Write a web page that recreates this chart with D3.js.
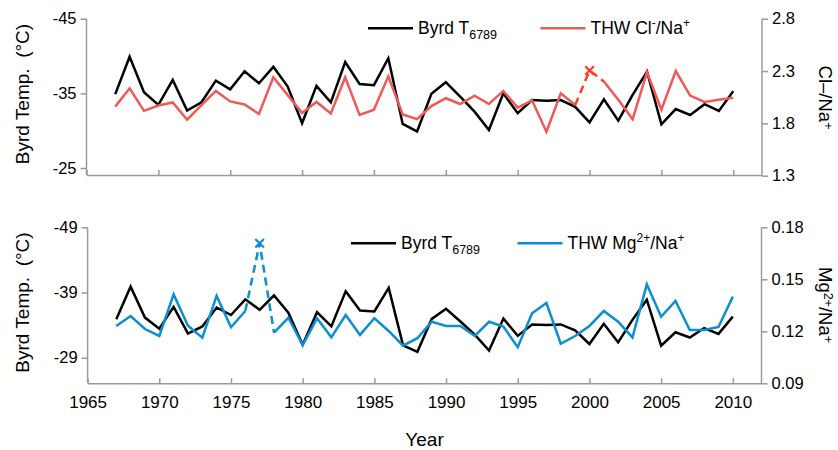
<!DOCTYPE html>
<html><head><meta charset="utf-8">
<script src="https://cdn.jsdelivr.net/npm/d3@7"></script>
<style>
body{margin:0;background:#fff}
svg text{font-family:"Liberation Sans",Arial,Helvetica,sans-serif;fill:#000}
</style></head><body>
<svg id="chart" width="838" height="450"></svg>
<script>
// Annual series, 1967-2010
const years = [1967,1968,1969,1970,1971,1972,1973,1974,1975,1976,
  1977,1978,1979,1980,1981,1982,1983,1984,1985,1986,
  1987,1988,1989,1990,1991,1992,1993,1994,1995,1996,
  1997,1998,1999,2000,2001,2002,2003,2004,2005,2006,
  2007,2008,2009,2010];

// Byrd temperature (6789 season mean), °C
const byrdT = [-34.9,-39.9,-35.15,-33.45,-36.8,-32.7,-33.8,-36.7,-35.55,-37.95,
  -36.35,-38.55,-35.9,-31.0,-36.0,-33.8,-39.2,-36.25,-36.1,-39.7,
  -30.9,-29.9,-34.95,-36.5,-34.55,-32.55,-30.1,-35.0,-32.35,-34.1,
  -34.0,-34.1,-33.2,-31.1,-34.2,-31.35,-34.8,-37.9,-30.85,-32.9,
  -32.1,-33.55,-32.65,-35.3];

// THW Cl-/Na+ ratio
const clNa = [1.96,2.135,1.92,1.97,2.0,1.835,1.975,2.11,2.01,1.98,
  1.89,2.24,2.07,1.90,2.005,1.895,2.24,1.88,1.93,2.25,
  1.885,1.84,1.965,2.04,1.985,2.065,1.985,2.11,1.95,2.02,
  1.72,2.087,1.975,2.305,2.20,2.025,1.84,2.29,1.93,2.30,
  2.065,2.005,2.025,2.045];

// THW Mg2+/Na+ ratio
const mgNa = [0.1231,0.1288,0.1213,0.1173,0.1413,0.1232,0.1163,0.1404,0.1223,0.1317,
  0.1708,0.1192,0.1278,0.1121,0.1275,0.1165,0.1294,0.1179,0.1275,0.1202,
  0.1117,0.1160,0.1255,0.1231,0.1231,0.1173,0.1255,0.1227,0.1108,0.1304,
  0.1363,0.1128,0.1173,0.1231,0.1317,0.1255,0.1165,0.1471,0.1284,0.1375,
  0.1207,0.1207,0.1225,0.1400];

// Flagged years: drawn with a cross and dashed connectors
const clFlagYear = 2000, clGap = [1999, 2001];
const mgFlagYear = 1977, mgGap = [1976, 1978];

// Tick values
const yearTicks = [1965,1970,1975,1980,1985,1990,1995,2000,2005,2010];
const tempTicksTop = [-45,-35,-25];
const clTicks = [2.8,2.3,1.8,1.3];
const tempTicksBottom = [-49,-39,-29];
const mgTicks = [0.18,0.15,0.12,0.09];

const AXIS = "#9a9a9a";
const C_BLACK = "#000000", C_RED = "#ee5a57", C_RED_FLAG = "#ff3d1f", C_BLUE = "#0c8fd0";

const svg = d3.select("#chart");
const rows = years.map((yr, i) => ({year: yr, t: byrdT[i], cl: clNa[i], mg: mgNa[i]}));

function styleAxis(g, size) {
  g.selectAll(".tick line").attr("stroke", AXIS).attr("stroke-width", 1.5);
  g.selectAll(".domain").attr("stroke", AXIS).attr("stroke-width", 1.5);
  g.selectAll(".tick text").attr("font-size", size)
    .attr("font-family", '"Liberation Sans",Arial,Helvetica,sans-serif').attr("fill", "#000");
}

function panel(cfg) {
  const {x, yL, yR, baseY, leftTicks, rightTicks, rightFmt, key, color, flagColor,
         gap, flagYear, showYears} = cfg;
  const x0 = x.range()[0], x1 = x.range()[1];

  // bottom (year) axis, ticks pointing into the plot
  const gx = svg.append("g").attr("transform", `translate(0,${baseY})`)
    .call(d3.axisBottom(x).tickValues(yearTicks).tickSizeInner(-5).tickSizeOuter(0)
      .tickPadding(13).tickFormat(d3.format("d")));
  if (!showYears) gx.selectAll(".tick text").remove();
  styleAxis(gx, 17);

  // left temperature axis
  const gl = svg.append("g").attr("transform", `translate(${x0},0)`)
    .call(d3.axisLeft(yL).tickValues(leftTicks).tickSize(6).tickPadding(4)
      .tickFormat(d => String(d)));
  gl.select(".domain").remove();
  gl.append("line").attr("class", "domain").attr("y1", yL(leftTicks[0])).attr("y2", baseY);
  styleAxis(gl, 16.5);

  // right ratio axis
  const gr = svg.append("g").attr("transform", `translate(${x1},0)`)
    .call(d3.axisRight(yR).tickValues(rightTicks).tickSize(6).tickPadding(4)
      .tickFormat(d3.format(rightFmt)));
  gr.select(".domain").remove();
  gr.append("line").attr("class", "domain").attr("y1", yR.range()[0]).attr("y2", yR.range()[1]);
  styleAxis(gr, 16.5);

  // temperature line
  const lineT = d3.line().x(d => x(d.year)).y(d => yL(d.t));
  svg.append("path").datum(rows).attr("d", lineT)
    .attr("fill", "none").attr("stroke", C_BLACK).attr("stroke-width", 2.5)
    .attr("stroke-linejoin", "miter");

  // ratio line: solid outside the flagged span, dashed across it
  const lineR = d3.line().x(d => x(d.year)).y(d => yR(d[key]));
  const before = rows.filter(d => d.year <= gap[0]);
  const across = rows.filter(d => d.year >= gap[0] && d.year <= gap[1]);
  const after = rows.filter(d => d.year >= gap[1]);
  [before, after].forEach(seg => {
    svg.append("path").datum(seg).attr("d", lineR)
      .attr("fill", "none").attr("stroke", color).attr("stroke-width", 2.5);
  });
  svg.append("path").datum(across).attr("d", lineR)
    .attr("fill", "none").attr("stroke", flagColor).attr("stroke-width", 2.5)
    .attr("stroke-dasharray", "8,5");
  const flag = rows.find(d => d.year === flagYear);
  svg.append("path")
    .attr("d", d3.symbol(d3.symbolTimes, 50)())
    .attr("transform", `translate(${x(flag.year)},${yR(flag[key])})`)
    .attr("fill", "none").attr("stroke", flagColor).attr("stroke-width", 2.2);
}

// ---------- top panel: temperature vs Cl-/Na+ ----------
const xTop = d3.scaleLinear().domain([1965, 2012]).range([86.5, 762]);
const yTopL = d3.scaleLinear().domain([-45, -25]).range([18.7, 168]);
const yTopR = d3.scaleLinear().domain([2.8, 1.3]).range([18.7, 175.7]);
panel({x: xTop, yL: yTopL, yR: yTopR, baseY: 175, leftTicks: tempTicksTop,
  rightTicks: clTicks, rightFmt: ".1f", key: "cl", color: C_RED, flagColor: C_RED_FLAG,
  gap: clGap, flagYear: clFlagYear, showYears: false});

// ---------- bottom panel: temperature vs Mg2+/Na+ ----------
const xBot = d3.scaleLinear().domain([1965, 2012]).range([87.6, 761.5]);
const yBotL = d3.scaleLinear().domain([-49, -29]).range([227.3, 357.7]);
const yBotR = d3.scaleLinear().domain([0.18, 0.09]).range([227.3, 383.3]);
panel({x: xBot, yL: yBotL, yR: yBotR, baseY: 383.3, leftTicks: tempTicksBottom,
  rightTicks: mgTicks, rightFmt: ".2f", key: "mg", color: C_BLUE, flagColor: C_BLUE,
  gap: mgGap, flagYear: mgFlagYear, showYears: true});

// ---------- legends ----------
function legendItem(x, y, color, build) {
  svg.append("line").attr("x1", x).attr("x2", x + 45).attr("y1", y).attr("y2", y)
    .attr("stroke", color).attr("stroke-width", 2.5);
  const t = svg.append("text").attr("x", x + 50).attr("y", y + 6).attr("font-size", 17.5);
  build(t);
}
function byrdLabel(t) {
  t.append("tspan").text("Byrd T");
  t.append("tspan").attr("font-size", 12.5).attr("dy", 5).text("6789");
}
legendItem(368, 28.3, C_BLACK, byrdLabel);
legendItem(540.5, 28.3, C_RED, t => {
  t.append("tspan").text("THW Cl");
  t.append("tspan").attr("font-size", 12).attr("dy", -7).text("-");
  t.append("tspan").attr("dy", 7).text("/Na");
  t.append("tspan").attr("font-size", 12).attr("dy", -7).text("+");
});
legendItem(351, 243.3, C_BLACK, byrdLabel);
legendItem(517.5, 243.3, C_BLUE, t => {
  t.append("tspan").text("THW Mg");
  t.append("tspan").attr("font-size", 12).attr("dy", -7).text("2+");
  t.append("tspan").attr("dy", 7).text("/Na");
  t.append("tspan").attr("font-size", 12).attr("dy", -7).text("+");
});

// ---------- axis titles ----------
[[94], [302.5]].forEach(([cy]) => {
  svg.append("text").attr("transform", `translate(28.5,${cy}) rotate(-90)`)
    .attr("text-anchor", "middle").attr("font-size", 19)
    .text("Byrd Temp.\u00a0\u00a0(°C)");
});
const rt1 = svg.append("text").attr("transform", "translate(819,97.5) rotate(90)")
  .attr("text-anchor", "middle").attr("font-size", 18.5);
rt1.append("tspan").text("Cl–/Na");
rt1.append("tspan").attr("font-size", 12.5).attr("dy", -5).text("+");
const rt2 = svg.append("text").attr("transform", "translate(819,305) rotate(90)")
  .attr("text-anchor", "middle").attr("font-size", 18.5);
rt2.append("tspan").text("Mg");
rt2.append("tspan").attr("font-size", 12.5).attr("dy", -5).text("2+");
rt2.append("tspan").attr("dy", 5).text("/Na");
rt2.append("tspan").attr("font-size", 12.5).attr("dy", -5).text("+");

svg.append("text").attr("x", (xBot.range()[0] + xBot.range()[1]) / 2).attr("y", 446)
  .attr("text-anchor", "middle").attr("font-size", 19).text("Year");
</script>
</body></html>
